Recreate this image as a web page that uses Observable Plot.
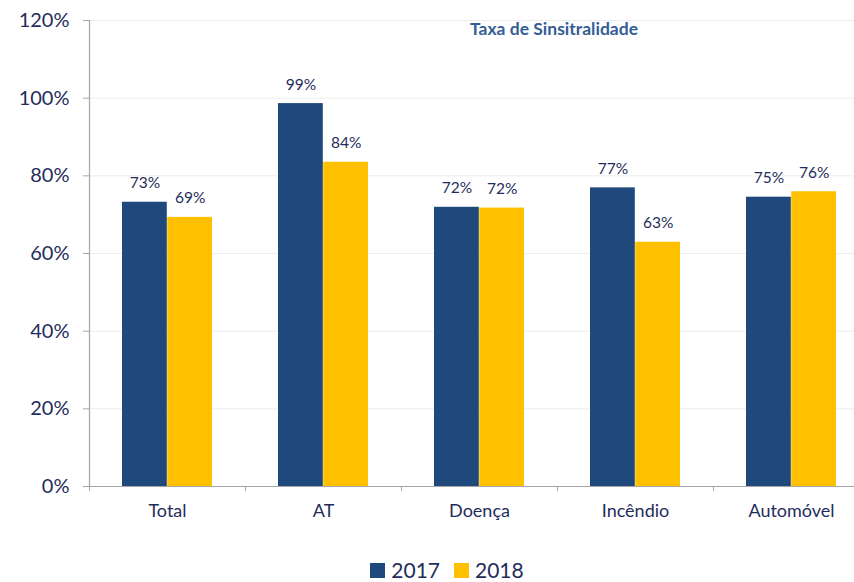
<!DOCTYPE html>
<html>
<head>
<meta charset="utf-8">
<script src="https://cdn.jsdelivr.net/npm/d3@7"></script>
<script src="https://cdn.jsdelivr.net/npm/@observablehq/plot@0.6"></script>
<style>
  body { margin: 0; background: #fff; font-family: Lato, "Open Sans", sans-serif; overflow: hidden; }
  #chart svg { display: block; }
  .legend { display: flex; justify-content: center; align-items: center; gap: 14px; height: 26px; margin-top: 17px; padding-left: 40px; font-size: 21px; line-height: 26px; color: #1f2d5c; font-family: Lato, sans-serif; }
  .legend span.sw { display: inline-block; width: 15px; height: 15px; margin-right: 6px; }
  .legend .item { display: flex; align-items: center; }
</style>
</head>
<body>
<div id="chart"></div>
<script>
const categories = ["Total", "AT", "Doença", "Incêndio", "Automóvel"];
const years = ["2017", "2018"];
const values2017 = [73.2, 98.6, 71.9, 76.9, 74.5];
const values2018 = [69.3, 83.5, 71.7, 62.9, 75.9];
const labels2017 = ["73%", "99%", "72%", "77%", "75%"];
const labels2018 = ["69%", "84%", "72%", "63%", "76%"];
const yTicks = [0, 20, 40, 60, 80, 100, 120];
const title = "Taxa de Sinsitralidade";
const colors = ["#1f497d", "#ffc000"];

const d2017 = categories.map((c, i) => ({cat: c, value: values2017[i], label: labels2017[i]}));
const d2018 = categories.map((c, i) => ({cat: c, value: values2018[i], label: labels2018[i]}));

const W = 854, H = 540;
const half = 45.2;
const textColor = "#1f2d5c";

const plot = Plot.plot({
  width: W,
  height: H,
  marginLeft: 89,
  marginTop: 20,
  marginBottom: 54,
  marginRight: 0,
  style: {fontFamily: "Lato, 'Open Sans', sans-serif", color: textColor, background: "#fff"},
  x: {domain: categories, range: [89, 869], paddingInner: 0.42, paddingOuter: 0.21},
  y: {domain: [0, 120]},
  marks: [
    Plot.gridY(yTicks, {stroke: "#ececec", strokeOpacity: 1}),
    Plot.barY(d2017, {x: "cat", y: "value", fill: colors[0], insetRight: half}),
    Plot.barY(d2018, {x: "cat", y: "value", fill: colors[1], insetLeft: half}),
    Plot.text(d2017, {x: "cat", y: "value", text: "label", dx: -half / 2, dy: -19, fontSize: 15.5, fill: textColor}),
    Plot.text(d2018, {x: "cat", y: "value", text: "label", dx: half / 2, dy: -19, fontSize: 15.5, fill: textColor}),
    Plot.ruleY([0], {stroke: "#a6a6a6", strokeWidth: 1.2}),
    Plot.frame({anchor: "left", stroke: "#a6a6a6", strokeWidth: 1.2}),
    Plot.axisY({ticks: yTicks, tickFormat: d => d + "%", tickSize: 6, tickPadding: 14, fontSize: 20, label: null, stroke: "#a6a6a6", fill: textColor}),
    Plot.axisX({tickSize: 5, dx: -78, tickFormat: () => "", label: null, stroke: "#a6a6a6"}),
    Plot.axisX({tickSize: 0, tickPadding: 18, fontSize: 18, label: null, fill: textColor}),
    Plot.text([title], {frameAnchor: "top", dx: 82, dy: 2, fontSize: 17.5, fontWeight: "bold", fill: "#345d95"})
  ]
});

document.getElementById("chart").appendChild(plot);

const legend = document.createElement("div");
legend.className = "legend";
years.forEach((y, i) => {
  const it = document.createElement("div");
  it.className = "item";
  it.innerHTML = `<span class="sw" style="background:${colors[i]}"></span>${y}`;
  legend.appendChild(it);
});
document.body.appendChild(legend);
</script>
</body>
</html>
